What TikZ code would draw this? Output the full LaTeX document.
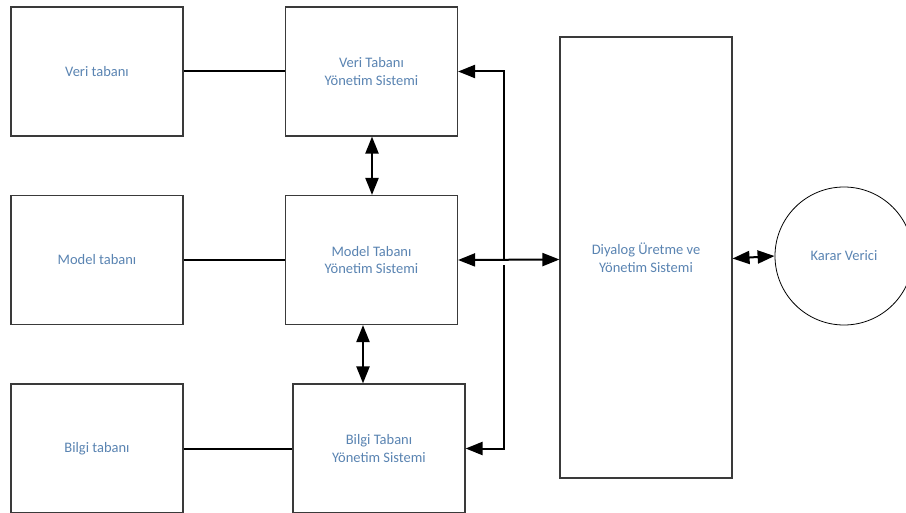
\documentclass[tikz,border=0pt]{standalone}
\usepackage{fontspec}
\setmainfont{Carlito}
\usetikzlibrary{arrows.meta}
\definecolor{labelblue}{HTML}{5A84B2}
\definecolor{edgegrey}{HTML}{3A3A3A}
\tikzset{
  labelfont/.style={text=labelblue, font=\fontsize{14.5}{17.7}\selectfont},
  block/.style={draw=edgegrey, line width=1.1pt, fill=white, minimum width=172pt,
    minimum height=129pt, inner sep=0pt, align=center, labelfont},
  tall/.style={block, minimum height=441pt},
  person/.style={draw=black, line width=0.8pt, circle, minimum size=138pt, inner sep=0pt,
    labelfont},
  head/.tip={Triangle[length=17pt,width=13pt]},
  link/.style={draw=black, line width=2pt},
  flow/.style={link, head-head}
}
\begin{document}
\begin{tikzpicture}[x=1pt,y=-1pt]
\clip (0,0) rectangle (906,513);
\useasboundingbox (0,0) rectangle (906,513);
% data sources (left column)
\node[block] (vt) at (97,71.5) {Veri tabanı};
\node[block] (mt) at (97,260) {Model tabanı};
\node[block] (bt) at (97,448.5) {Bilgi tabanı};
% management systems (middle column)
\node[block] (vtys) at (371.5,71.5) {Veri Tabanı\\Yönetim Sistemi};
\node[block] (mtys) at (371.5,260) {Model Tabanı\\Yönetim Sistemi};
\node[block] (btys) at (379,448.5) {Bilgi Tabanı\\Yönetim Sistemi};
% dialogue system and decision maker
\node[tall] (dys) at (646,257.5) {Diyalog Üretme ve\\Yönetim Sistemi};
\node[person] (kv) at (844,256) {Karar Verici};
% source links
\draw[link] (vt.east) -- (vtys.west);
\draw[link] (mt.east) -- (mtys.west);
\draw[link] (bt.east) -- (btys.west);
% links between management systems
\draw[flow] (vtys.south -| 372,0) -- (mtys.north -| 372,0);
\draw[flow] (mtys.south -| 363,0) -- (btys.north -| 363,0);
% bus feeding the top and bottom systems
\coordinate (bus) at (504,71.5);
\draw[flow] (vtys.east) -- (bus) |- (btys.east);
% crossing gap on the bus
\fill[white] (502,261.5) rectangle (506,265);
% model system to dialogue system
\draw[flow] (mtys.east) -- ([yshift=-2pt]dys.west);
% dialogue system to decision maker
\draw[flow] ([yshift=-1pt]dys.east) -- (kv.west);
\end{tikzpicture}
\end{document}
